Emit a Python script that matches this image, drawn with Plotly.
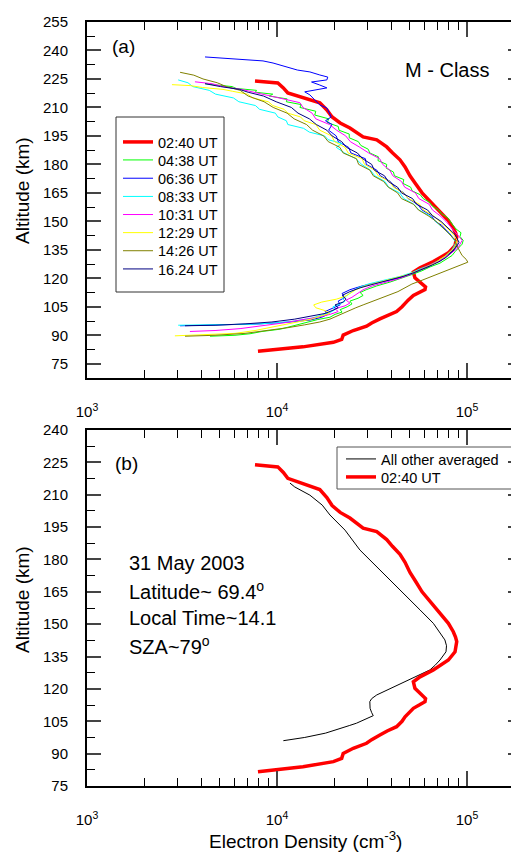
import plotly.graph_objects as go

# ---------------- data (altitude km, electron density cm^-3) ----------------
alt_0240 = [81.6, 83.9, 86.3, 87.8, 90.1, 92.5, 94.8, 96.5, 98.6, 100.5, 102.5, 105.0, 107.1, 108.5,
            111.0, 112.5, 114.1, 115.5, 117.2, 120.3, 123.3, 125.6, 128.8, 131.0, 133.4, 137.2, 140.0,
            141.9, 144.0, 146.5, 150.4, 155.0, 160.0, 165.0, 170.0, 174.0, 178.7, 182.4, 186.1, 189.2,
            192.9, 194.5, 199.2, 201.8, 205.0, 208.7, 212.4, 215.0, 217.6, 220.3, 222.9, 223.9]
ne_0240 = [7940, 13700, 19800, 21900, 22300, 25200, 29600, 31500, 34800, 38000, 42600, 45500, 47200, 49000,
           52200, 56000, 60100, 60500, 57700, 53200, 52200, 56600, 66500, 72000, 79800, 86500, 88000,
           88300, 87000, 84700, 79800, 72100, 65000, 58000, 53500, 50100, 47200, 44400, 40500, 37800,
           33500, 28400, 24200, 21500, 19500, 18300, 16800, 13700, 11400, 10800, 10100, 7660]

alt_0438 = [89.5, 90.0, 90.8, 92.0, 93.2, 94.5, 96.0, 97.0, 98.3, 99.5, 101.0, 102.2, 103.5, 105.0, 106.5,
            108.0, 109.5, 111.0, 112.5, 114.0, 116.0, 118.0, 120.0, 122.0, 124.0, 126.0, 128.0, 130.0,
            132.0, 134.0, 136.0, 138.0, 140.0, 142.0, 144.0, 146.0, 148.0, 150.0, 152.0, 154.0, 156.0,
            158.0, 160.0, 162.0, 164.0, 166.0, 168.0, 170.0, 172.0, 174.0, 176.0, 178.0, 180.0, 182.0,
            184.0, 186.0, 188.0, 190.0, 192.0, 194.0, 196.0, 198.0, 200.0, 202.0, 204.0, 206.0, 208.0,
            210.0, 211.5, 213.0, 214.5, 216.0, 217.0, 218.0, 219.0, 220.0, 221.0, 222.0, 222.5]
ne_0438 = [4440, 6010, 7210, 8340, 10400, 11700, 13200, 14900, 16400, 19000, 20200, 22000, 21500, 23400, 24800,
           24200, 26700, 28400, 27400, 29500, 33500, 39300, 45500, 51300, 58000, 63900, 72100, 77500,
           83400, 86500, 90800, 94300, 95500, 91900, 93000, 87500, 84400, 81400, 79000, 73500, 71000,
           65800, 63500, 58800, 56800, 51500, 50500, 46000, 46500, 41500, 41000, 37600, 37800, 34000,
           34200, 30800, 30200, 27600, 26800, 24000, 24000, 21200, 21000, 18400, 18700, 15800, 16000,
           13200, 13400, 11200, 11300, 9100, 9500, 7700, 7800, 6100, 5800, 4600, 4180]

alt_0636 = [95.0, 95.5, 96.0, 97.0, 98.0, 99.5, 101.0, 102.5, 104.0, 106.0, 108.0, 110.0, 112.0, 114.0,
            116.0, 118.0, 120.0, 122.0, 124.0, 126.0, 128.0, 130.0, 132.0, 134.0, 136.0, 138.0, 140.0,
            142.0, 144.0, 146.0, 148.0, 150.0, 153.0, 156.0, 159.0, 162.0, 165.0, 168.0, 171.0, 174.0,
            177.0, 180.0, 183.0, 186.0, 189.0, 192.0, 195.0, 198.0, 201.0, 203.0, 205.0, 209.7, 211.3,
            214.0, 216.6, 218.2, 219.2, 220.3, 221.8, 223.4, 224.5, 226.0, 227.1, 228.7, 229.7, 233.4,
            234.5, 235.5, 236.6]
ne_0636 = [3090, 5010, 8140, 11700, 14900, 17200, 18500, 17900, 19500, 21500, 21000, 22800, 22000, 24200,
           28100, 34800, 43300, 50100, 56600, 62400, 67900, 73900, 77500, 83400, 86500, 88600, 86500,
           83400, 80400, 76600, 73500, 68000, 65000, 58000, 55000, 49000, 46500, 41500, 39500, 35000,
           33500, 29500, 29200, 24500, 23800, 21000, 20500, 18700, 19500, 18000, 19300, 18300, 16800,
           15800, 14900, 14000, 15600, 18300, 16800, 15200, 18300, 18500, 16800, 14900, 12800, 9530,
           8440, 5660, 4180]

alt_0833 = [95.3, 95.6, 95.8, 96.5, 97.5, 99.0, 100.5, 102.0, 103.5, 105.0, 106.5, 108.0, 109.5, 111.0,
            113.0, 115.0, 117.0, 119.0, 121.0, 123.0, 125.0, 127.0, 129.0, 131.0, 133.0, 135.0, 137.0,
            139.0, 141.0, 143.0, 145.0, 147.0, 150.0, 153.0, 156.0, 159.0, 162.0, 165.0, 168.0, 171.0,
            174.0, 177.0, 180.0, 183.0, 186.0, 189.0, 191.0, 193.0, 195.0, 197.0, 199.0, 201.0, 203.0,
            205.0, 207.0, 209.0, 211.0, 213.0, 215.0, 217.0, 219.0, 221.0, 223.0, 224.5]
ne_0833 = [3020, 4720, 7210, 9760, 12400, 15200, 17200, 19000, 20200, 19700, 21500, 22800, 22000, 23400,
           24800, 26700, 30200, 37000, 44400, 51300, 56600, 63900, 69500, 75700, 79500, 83400, 85500,
           87500, 84400, 81400, 77500, 73900, 68800, 63500, 55800, 52500, 46500, 44200, 38700, 37000,
           32700, 31000, 27900, 26000, 22700, 20500, 22000, 18600, 17800, 14800, 13800, 11400, 11200,
           10100, 9800, 8100, 7700, 6300, 5900, 4750, 4400, 3600, 3400, 3020]

alt_1031 = [92.0, 92.5, 93.5, 95.0, 96.5, 98.0, 99.5, 101.0, 102.5, 104.0, 105.5, 107.0, 108.5, 110.0,
            112.0, 114.0, 116.0, 118.0, 120.0, 122.0, 124.0, 126.0, 128.0, 130.0, 132.0, 134.0, 136.0,
            138.0, 140.0, 142.0, 144.0, 146.0, 148.0, 150.0, 153.0, 156.0, 159.0, 162.0, 165.0, 168.0,
            171.0, 174.0, 177.0, 180.0, 183.0, 186.0, 189.0, 192.0, 195.0, 198.0, 201.0, 204.0, 207.0,
            210.0, 212.5, 214.5, 216.0, 218.0, 219.5, 221.0, 222.5, 223.5]
ne_1031 = [3480, 4720, 6390, 8340, 10800, 13200, 16400, 19000, 21000, 20200, 22800, 24200, 23100, 24800,
           26400, 28400, 31700, 37400, 44400, 50100, 55300, 61600, 67100, 73900, 79500, 84400, 89700,
           91900, 94300, 90800, 87500, 83400, 80400, 77500, 72100, 65800, 63200, 55800, 53500, 47000,
           45200, 40700, 39200, 36000, 34700, 30400, 27300, 24300, 23000, 20600, 18900, 16000, 15300,
           13700, 13200, 10800, 9600, 7800, 6500, 5200, 4550, 3700]

alt_1229 = [89.7, 90.2, 91.0, 92.5, 94.0, 95.5, 97.0, 98.5, 100.0, 101.5, 103.0, 104.5, 106.0, 107.5,
            109.0, 110.5, 112.0, 114.0, 116.0, 118.0, 120.0, 122.0, 124.0, 126.0, 128.0, 130.0, 132.0,
            134.0, 136.0, 138.0, 140.0, 142.0, 144.0, 146.0, 148.0, 150.0, 153.0, 156.0, 159.0, 162.0,
            165.0, 168.0, 171.0, 174.0, 177.0, 180.0, 183.0, 186.0, 189.0, 192.0, 195.0, 198.0, 201.0,
            203.0, 205.0, 207.0, 209.0, 211.0, 213.0, 215.0, 217.0, 218.5, 219.5, 220.5, 221.5, 222.0]
ne_1229 = [2900, 4180, 6010, 7660, 9190, 11000, 13200, 15200, 16800, 19000, 17900, 16000, 15600, 17200,
           20500, 22800, 24200, 26000, 29100, 34800, 42300, 48900, 55300, 60800, 67900, 72100, 77500,
           81400, 85500, 87500, 88600, 86500, 83400, 79500, 75700, 72100, 66300, 59000, 56300, 49200,
           46300, 41000, 39200, 34100, 32700, 28900, 28000, 23700, 22800, 20100, 19400, 16800, 16000,
           13900, 13300, 11400, 10900, 9500, 9000, 7450, 7000, 5850, 5200, 4050, 3500, 2800]

alt_1426 = [89.5, 90.0, 91.0, 92.5, 94.0, 95.5, 97.0, 98.5, 100.0, 101.5, 103.0, 104.5, 106.0, 107.5,
            109.0, 111.0, 113.0, 115.0, 117.0, 119.0, 121.0, 123.0, 125.0, 127.0, 128.5, 130.0, 132.0,
            134.0, 136.0, 138.0, 140.0, 142.0, 144.0, 146.0, 148.0, 150.0, 153.0, 156.0, 159.0, 162.0,
            165.0, 168.0, 171.0, 174.0, 177.0, 180.0, 183.0, 186.0, 189.0, 192.0, 195.0, 198.0, 201.0,
            204.0, 207.0, 210.0, 213.0, 216.0, 219.0, 221.0, 223.0, 225.0, 227.0, 228.5]
ne_1426 = [3280, 4720, 6790, 8960, 11400, 14000, 16800, 19000, 20500, 22000, 24200, 26000, 28400, 30900,
           34000, 38400, 43300, 47200, 51300, 58000, 65500, 73900, 83400, 94300, 101000, 99000, 94300,
           91900, 89700, 87500, 86500, 83400, 79500, 75700, 72100, 68800, 62400, 55500, 52300, 45200,
           43100, 38500, 36400, 32100, 30800, 26900, 26200, 22300, 21400, 18600, 17600, 15400, 14300,
           12300, 11300, 9550, 8550, 7050, 6400, 5400, 4850, 4080, 3650, 3090]

alt_1624 = [95.0, 95.3, 96.0, 97.0, 98.5, 100.0, 101.5, 103.0, 104.5, 106.0, 107.5, 109.0, 111.0, 113.0,
            115.0, 117.0, 119.0, 121.0, 123.0, 125.0, 127.0, 129.0, 131.0, 133.0, 135.0, 137.0, 139.0,
            141.0, 143.0, 145.0, 147.0, 150.0, 153.0, 156.0, 159.0, 162.0, 165.0, 168.0, 171.0, 174.0,
            177.0, 180.0, 183.0, 186.0, 189.0, 192.0, 195.0, 198.0, 201.0, 204.0, 207.0, 210.0, 213.0,
            216.0, 218.0, 219.5, 221.0, 222.5]
ne_1624 = [3280, 4720, 6790, 9400, 12400, 15200, 17900, 19500, 21000, 20200, 22300, 23100, 22000, 24200,
           27400, 32400, 39300, 46100, 52600, 59400, 65500, 72100, 77500, 81400, 85500, 88600, 90800,
           88600, 86500, 82400, 78500, 73000, 65800, 62000, 54200, 51700, 45200, 43100, 38500, 36800,
           32500, 31500, 28200, 26500, 23200, 21900, 19500, 18300, 16100, 14800, 12900, 11900, 9900,
           8500, 7050, 6350, 5030, 4180]

alt_avg = [96.0, 97.5, 99.5, 101.3, 103.0, 104.1, 106.0, 107.6, 109.0, 111.0, 114.1, 115.5, 117.2, 119.0,
           120.5, 122.6, 125.0, 127.0, 128.8, 131.0, 133.4, 137.2, 140.0, 142.7, 146.0, 150.4, 156.6,
           165.8, 175.0, 184.4, 193.6, 200.6, 205.2, 209.8, 213.6, 215.4]
ne_avg = [10800, 14000, 18000, 20600, 24000, 26200, 29500, 32100, 31500, 30900, 30800, 31500, 33500, 37000,
          40000, 44400, 51000, 57000, 63800, 68000, 72100, 77500, 78000, 76500, 72000, 66500, 56600,
          44400, 34800, 27300, 22800, 19000, 17300, 14900, 12400, 11700]

series_top = [
    ("02:40 UT", alt_0240, ne_0240, "#ff0000", 3.5),
    ("04:38 UT", alt_0438, ne_0438, "#00ff00", 1),
    ("06:36 UT", alt_0636, ne_0636, "#0000ff", 1),
    ("08:33 UT", alt_0833, ne_0833, "#00ffff", 1),
    ("10:31 UT", alt_1031, ne_1031, "#ff00ff", 1),
    ("12:29 UT", alt_1229, ne_1229, "#ffff00", 1),
    ("14:26 UT", alt_1426, ne_1426, "#808000", 1),
    ("16.24 UT", alt_1624, ne_1624, "#000080", 1),
]

x_tickvals = [1e3, 1e4, 1e5]
x_ticktext = ["10<sup>3</sup>", "10<sup>4</sup>", "10<sup>5</sup>"]
x_minor = [m * d for d in (1e3, 1e4, 1e5) for m in range(2, 10)]

FONT = "Liberation Sans, Arial, sans-serif"

# page body has an 8px margin: figure origin sits at window (8, 8)
OFF = 8
W, H = 519, 853
L, R, T, B = 79, 5, 14, 75
pw, ph = W - L - R, H - T - B


def px(wx):
    return (wx - OFF - L) / pw


def py(wy):
    return (H - B - (wy - OFF)) / ph


fig = go.Figure()
top_rows = [142, 160, 178.3, 196.5, 214.6, 232.7, 250.8, 269]
for i, (name, a, n, c, w) in enumerate(series_top):
    lg = "legend" if i == 0 else "legend%d" % (i + 1)
    fig.add_trace(go.Scatter(x=n, y=a, mode="lines", name=name, line=dict(color=c, width=w),
                             xaxis="x", yaxis="y", legend=lg))

fig.add_trace(go.Scatter(x=ne_avg, y=alt_avg, mode="lines", name="All other averaged",
                         line=dict(color="black", width=1), xaxis="x2", yaxis="y2", legend="legend9"))
fig.add_trace(go.Scatter(x=ne_0240, y=alt_0240, mode="lines", name="02:40 UT",
                         line=dict(color="#ff0000", width=3.5), xaxis="x2", yaxis="y2", legend="legend10"))

xr = [3, 3 + pw / 190.0]
xcommon = dict(type="log", range=xr, tickvals=x_tickvals, ticktext=x_ticktext, ticks="inside", ticklen=15,
               tickwidth=1.5, showline=True, linewidth=2, linecolor="black", mirror="ticks",
               showgrid=False, zeroline=False, tickfont=dict(size=15, family=FONT, color="black"),
               ticklabelstandoff=19,
               minor=dict(tickvals=x_minor, ticks="inside", ticklen=8, tickwidth=1, tickcolor="black"))
ycommon = dict(dtick=15, tick0=0, ticks="inside", ticklen=14, tickwidth=1.5, showline=True, linewidth=2,
               linecolor="black", mirror="ticks", showgrid=False, zeroline=False,
               tickfont=dict(size=15, family=FONT, color="black"), ticklabelstandoff=14,
               minor=dict(dtick=7.5, tick0=0, ticks="inside", ticklen=8, tickwidth=1, tickcolor="black"))

dom_top = [py(378), 1.0]
dom_bot = [0.0, py(430)]

legend_base = dict(xanchor="left", yanchor="middle", bgcolor="rgba(0,0,0,0)", borderwidth=0,
                   font=dict(size=14.5, family=FONT, color="black"), itemwidth=30)
legends = {}
for i, row in enumerate(top_rows):
    key = "legend" if i == 0 else "legend%d" % (i + 1)
    legends[key] = dict(legend_base, x=px(118), y=py(row))
legends["legend9"] = dict(legend_base, x=px(341), y=py(459))
legends["legend10"] = dict(legend_base, x=px(341), y=py(477))

fig.update_layout(
    width=W, height=H, margin=dict(l=L, r=R, t=T, b=B, autoexpand=False),
    plot_bgcolor="white", paper_bgcolor="white",
    font=dict(family=FONT, color="black"),
    xaxis=dict(xcommon, anchor="y"),
    yaxis=dict(ycommon, range=[67.5, 255], domain=dom_top, anchor="x"),
    xaxis2=dict(xcommon, anchor="y2"),
    yaxis2=dict(ycommon, range=[75, 240], domain=dom_bot, anchor="x2"),
    showlegend=True,
    **legends,
)

# legend frames
fig.add_shape(type="rect", xref="paper", yref="paper", x0=px(116), x1=px(224), y0=py(292), y1=py(117),
              line=dict(color="#333333", width=1), fillcolor="rgba(0,0,0,0)", layer="below")
fig.add_shape(type="rect", xref="paper", yref="paper", x0=px(337), x1=px(512), y0=py(489), y1=py(447),
              line=dict(color="#555555", width=1), fillcolor="rgba(0,0,0,0)", layer="below")

ann = [
    ("(a)", 110, 47, 19, "left", 0),
    ("M - Class", 403, 70, 20, "left", 0),
    ("(b)", 113, 463, 19, "left", 0),
    ("31 May 2003", 127, 563, 20, "left", 0),
    ("Latitude~ 69.4<sup>o</sup>", 127, 590, 20, "left", 0),
    ("Local Time~14.1", 127, 618, 20, "left", 0),
    ("SZA~79<sup>o</sup>", 127, 645, 20, "left", 0),
    ("Altitude (km)", 22, 191, 19, "center", -90),
    ("Altitude (km)", 22, 600, 19, "center", -90),
    ("Electron Density (cm<sup>-3</sup>)", 305, 840, 19, "center", 0),
]
for t, xx, yy, fs, xa, ang in ann:
    fig.add_annotation(text=t, x=px(xx), y=py(yy), xref="paper", yref="paper", xanchor=xa, yanchor="middle",
                       showarrow=False, textangle=ang, font=dict(size=fs, family=FONT, color="black"))

fig.write_html("out.html")
